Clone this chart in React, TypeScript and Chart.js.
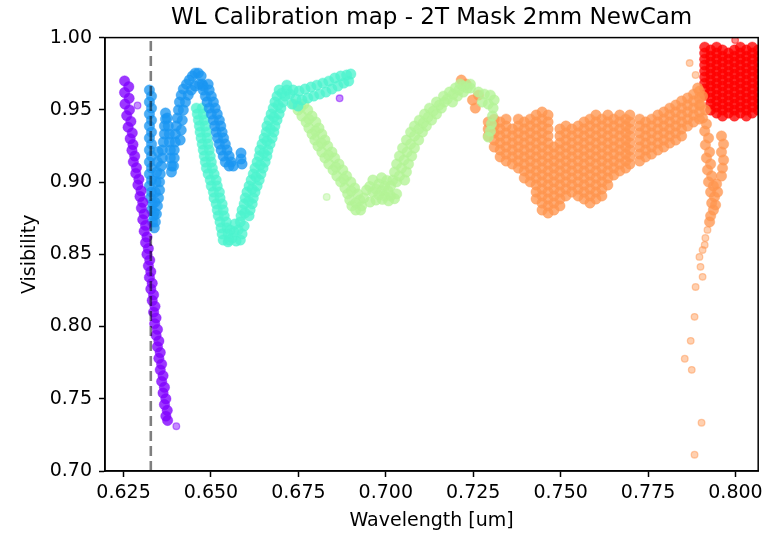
import React, { useEffect, useRef } from 'react';
import { Chart, registerables } from 'chart.js';

Chart.register(...registerables);

const chartTitle = 'WL Calibration map - 2T Mask 2mm NewCam';
const xLabel = 'Wavelength [um]';
const yLabel = 'Visibility';
const wlTicks = [0.625, 0.65, 0.675, 0.7, 0.725, 0.75, 0.775, 0.8];
const visTicks = [0.7, 0.75, 0.8, 0.85, 0.9, 0.95, 1.0];
const xRange = [0.6197, 0.8065];
const yRange = [0.7, 1.0];
const refWavelength = 0.6328;

// rainbow colormap samples 0, 0.2, 0.4, 0.6, 0.8, 1.0
const colPurple = [128, 0, 255];
const colBlue = [26, 150, 242];
const colCyan = [77, 243, 206];
const colGreen = [179, 243, 150];
const colOrange = [255, 150, 79];
const colRed = [255, 0, 0];

const purple: [number, number][] = [
  [0.6253, 0.970], [0.6265, 0.966], [0.6253, 0.962], [0.6266, 0.958], [0.6254, 0.954], [0.6267, 0.950],
  [0.6259, 0.946], [0.6271, 0.942], [0.6263, 0.938], [0.6275, 0.934], [0.6269, 0.930], [0.6277, 0.926],
  [0.6274, 0.922], [0.6282, 0.918], [0.6278, 0.914], [0.6287, 0.910], [0.6285, 0.906], [0.6294, 0.902],
  [0.6291, 0.898], [0.6300, 0.894], [0.6297, 0.890], [0.6305, 0.886], [0.6301, 0.882], [0.6309, 0.878],
  [0.6305, 0.874], [0.6313, 0.870], [0.6309, 0.866], [0.6317, 0.862], [0.6313, 0.858], [0.6321, 0.854],
  [0.6317, 0.850], [0.6325, 0.846], [0.6321, 0.842], [0.6328, 0.838], [0.6324, 0.834], [0.6332, 0.830],
  [0.6328, 0.826], [0.6336, 0.822], [0.6332, 0.818], [0.6340, 0.814], [0.6336, 0.810], [0.6343, 0.806],
  [0.6339, 0.802], [0.6347, 0.798], [0.6343, 0.794], [0.6351, 0.790], [0.6347, 0.786], [0.6355, 0.782],
  [0.6351, 0.778], [0.6359, 0.774], [0.6355, 0.770], [0.6363, 0.766], [0.6359, 0.762], [0.6367, 0.758],
  [0.6363, 0.754], [0.6371, 0.750], [0.6367, 0.746], [0.6375, 0.742], [0.6371, 0.738], [0.6376, 0.735],
];
const purpleStray: [number, number][] = [[0.6401, 0.731], [0.6290, 0.953], [0.6868, 0.958]];

const blue: [number, number][] = [
  [0.6324, 0.9637], [0.6330, 0.9595], [0.6324, 0.9554], [0.6330, 0.9512], [0.6324, 0.9471], [0.6330, 0.9429],
  [0.6324, 0.9388], [0.6330, 0.9346], [0.6324, 0.9305], [0.6330, 0.9263], [0.6324, 0.9222], [0.6330, 0.9180],
  [0.6324, 0.9139], [0.6330, 0.9097], [0.6324, 0.9056], [0.6330, 0.9014], [0.6324, 0.8973], [0.6330, 0.8931],
  [0.6327, 0.8890], [0.6333, 0.8849], [0.6330, 0.8807], [0.6336, 0.8766], [0.6333, 0.8724], [0.6338, 0.8683],
  [0.6338, 0.8790], [0.6340, 0.8860], [0.6341, 0.8930], [0.6343, 0.9000], [0.6345, 0.9070], [0.6347, 0.9140],
  [0.6349, 0.9210],
  [0.6341, 0.8724], [0.6344, 0.8779], [0.6347, 0.8835], [0.6350, 0.8890], [0.6353, 0.8945], [0.6353, 0.9001],
  [0.6355, 0.9056], [0.6358, 0.9111], [0.6361, 0.9167], [0.6361, 0.9222], [0.6364, 0.9277], [0.6367, 0.9333],
  [0.6367, 0.9388], [0.6370, 0.9436], [0.6370, 0.9478],
  [0.6375, 0.9443], [0.6378, 0.9388], [0.6381, 0.9333], [0.6381, 0.9277], [0.6384, 0.9222], [0.6384, 0.9167],
  [0.6387, 0.9111], [0.6387, 0.9070],
  [0.6393, 0.9111], [0.6395, 0.9167], [0.6395, 0.9222], [0.6398, 0.9277], [0.6398, 0.9333], [0.6401, 0.9388],
  [0.6404, 0.9443], [0.6407, 0.9499], [0.6410, 0.9554], [0.6415, 0.9602], [0.6421, 0.9644], [0.6430, 0.9678],
  [0.6438, 0.9706], [0.6447, 0.9734], [0.6455, 0.9754], [0.6464, 0.9754], [0.6472, 0.9734],
  [0.6412, 0.9291], [0.6415, 0.9360], [0.6418, 0.9429], [0.6421, 0.9499], [0.6427, 0.9554], [0.6435, 0.9602],
  [0.6444, 0.9637], [0.6455, 0.9665], [0.6467, 0.9678], [0.6478, 0.9665],
  [0.6475, 0.9678], [0.6492, 0.9678], [0.6478, 0.9637], [0.6495, 0.9637], [0.6484, 0.9595], [0.6501, 0.9595],
  [0.6489, 0.9554], [0.6507, 0.9554], [0.6495, 0.9512], [0.6512, 0.9512], [0.6501, 0.9471], [0.6518, 0.9471],
  [0.6507, 0.9429], [0.6524, 0.9429], [0.6511, 0.9388], [0.6528, 0.9388], [0.6515, 0.9346], [0.6532, 0.9346],
  [0.6519, 0.9305], [0.6536, 0.9305], [0.6524, 0.9263], [0.6541, 0.9263], [0.6529, 0.9222], [0.6546, 0.9222],
  [0.6535, 0.9180], [0.6552, 0.9180], [0.6541, 0.9139], [0.6558, 0.9139], [0.6552, 0.9111], [0.6564, 0.9111],
  [0.6586, 0.9201], [0.6586, 0.9160], [0.6589, 0.9125],
];

const cyan: [number, number][] = [
  [0.6458, 0.9512], [0.6475, 0.9512], [0.6461, 0.9471], [0.6478, 0.9471], [0.6464, 0.9429], [0.6481, 0.9429],
  [0.6467, 0.9388], [0.6484, 0.9388], [0.6469, 0.9346], [0.6487, 0.9346], [0.6472, 0.9305], [0.6489, 0.9305],
  [0.6475, 0.9263], [0.6492, 0.9263], [0.6478, 0.9222], [0.6495, 0.9222], [0.6481, 0.9180], [0.6498, 0.9180],
  [0.6484, 0.9139], [0.6501, 0.9139], [0.6487, 0.9097], [0.6504, 0.9097], [0.6492, 0.9056], [0.6509, 0.9056],
  [0.6498, 0.9014], [0.6515, 0.9014], [0.6501, 0.8973], [0.6518, 0.8973], [0.6507, 0.8931], [0.6524, 0.8931],
  [0.6509, 0.8890], [0.6526, 0.8890], [0.6515, 0.8849], [0.6532, 0.8849], [0.6518, 0.8807], [0.6535, 0.8807],
  [0.6521, 0.8766], [0.6538, 0.8766], [0.6526, 0.8724], [0.6544, 0.8724], [0.6529, 0.8683], [0.6546, 0.8683],
  [0.6532, 0.8641], [0.6549, 0.8641], [0.6535, 0.8599], [0.6552, 0.8599],
  [0.6549, 0.8586], [0.6561, 0.8613], [0.6572, 0.8592], [0.6584, 0.8599], [0.6566, 0.8655], [0.6578, 0.8669],
  [0.6589, 0.8641], [0.6595, 0.8696], [0.6555, 0.8669], [0.6569, 0.8710], [0.6584, 0.8724],
  [0.6586, 0.8766], [0.6609, 0.8766], [0.6589, 0.8807], [0.6612, 0.8807], [0.6595, 0.8849], [0.6618, 0.8849],
  [0.6598, 0.8890], [0.6621, 0.8890], [0.6603, 0.8931], [0.6626, 0.8931], [0.6609, 0.8973], [0.6632, 0.8973],
  [0.6615, 0.9014], [0.6638, 0.9014], [0.6621, 0.9056], [0.6643, 0.9056], [0.6626, 0.9097], [0.6649, 0.9097],
  [0.6632, 0.9139], [0.6655, 0.9139], [0.6638, 0.9180], [0.6660, 0.9180], [0.6640, 0.9222], [0.6663, 0.9222],
  [0.6646, 0.9263], [0.6669, 0.9263], [0.6652, 0.9305], [0.6675, 0.9305], [0.6658, 0.9346], [0.6680, 0.9346],
  [0.6660, 0.9388], [0.6683, 0.9388], [0.6666, 0.9429], [0.6689, 0.9429], [0.6672, 0.9471], [0.6695, 0.9471],
  [0.6678, 0.9512], [0.6700, 0.9512], [0.6683, 0.9554], [0.6706, 0.9554], [0.6689, 0.9595], [0.6712, 0.9595],
  [0.6695, 0.9637], [0.6717, 0.9637],
  [0.6597, 0.8786], [0.6608, 0.8869], [0.6618, 0.8952], [0.6629, 0.9035], [0.6641, 0.9118], [0.6651, 0.9201],
  [0.6660, 0.9284], [0.6670, 0.9367], [0.6680, 0.9450], [0.6692, 0.9533], [0.6703, 0.9616],
  [0.6717, 0.9671], [0.6726, 0.9609], [0.6735, 0.9637], [0.6743, 0.9575], [0.6752, 0.9630], [0.6760, 0.9568],
  [0.6769, 0.9644], [0.6777, 0.9582], [0.6786, 0.9658], [0.6794, 0.9595], [0.6803, 0.9671], [0.6811, 0.9609],
  [0.6820, 0.9685], [0.6829, 0.9623], [0.6837, 0.9699], [0.6846, 0.9644], [0.6854, 0.9720], [0.6863, 0.9665],
  [0.6871, 0.9734], [0.6880, 0.9685], [0.6888, 0.9741], [0.6894, 0.9699], [0.6900, 0.9748],
  [0.6732, 0.9540], [0.6749, 0.9526],
];

const green: [number, number][] = [
  [0.6737, 0.9540], [0.6766, 0.9540], [0.6749, 0.9499], [0.6777, 0.9499], [0.6760, 0.9457], [0.6789, 0.9457],
  [0.6772, 0.9416], [0.6800, 0.9416], [0.6780, 0.9374], [0.6809, 0.9374], [0.6789, 0.9333], [0.6817, 0.9333],
  [0.6797, 0.9291], [0.6826, 0.9291], [0.6806, 0.9250], [0.6834, 0.9250], [0.6817, 0.9208], [0.6846, 0.9208],
  [0.6826, 0.9167], [0.6854, 0.9167], [0.6837, 0.9125], [0.6866, 0.9125], [0.6849, 0.9084], [0.6877, 0.9084],
  [0.6860, 0.9042], [0.6888, 0.9042], [0.6871, 0.9001], [0.6900, 0.9001], [0.6883, 0.8959], [0.6911, 0.8959],
  [0.6891, 0.8918], [0.6920, 0.8918], [0.6897, 0.8876], [0.6926, 0.8876], [0.6903, 0.8835], [0.6931, 0.8835],
  [0.6757, 0.9519], [0.6780, 0.9436], [0.6799, 0.9353], [0.6816, 0.9270], [0.6836, 0.9187], [0.6857, 0.9104],
  [0.6880, 0.9021], [0.6901, 0.8938], [0.6914, 0.8855],
  [0.6914, 0.8807], [0.6928, 0.8807], [0.6937, 0.8890], [0.6945, 0.8945], [0.6963, 0.9014], [0.6963, 0.8931],
  [0.6980, 0.8987], [0.6980, 0.8911], [0.6997, 0.8973], [0.6997, 0.8904], [0.7014, 0.8973], [0.7014, 0.8904],
  [0.7031, 0.9001], [0.7031, 0.8918], [0.6954, 0.8970], [0.6972, 0.8950], [0.6989, 0.8940], [0.7006, 0.8940],
  [0.6955, 0.8862], [0.6972, 0.8876], [0.6990, 0.8880], [0.7008, 0.8870], [0.7025, 0.8885], [0.6988, 0.9030],
  [0.7003, 0.9012],
  [0.7020, 0.9014], [0.7054, 0.9014], [0.7025, 0.9070], [0.7059, 0.9070], [0.7031, 0.9125], [0.7065, 0.9125],
  [0.7039, 0.9180], [0.7074, 0.9180], [0.7048, 0.9236], [0.7082, 0.9236], [0.7059, 0.9291], [0.7094, 0.9291],
  [0.7071, 0.9346], [0.7105, 0.9346], [0.7082, 0.9388], [0.7116, 0.9388], [0.7096, 0.9429], [0.7131, 0.9429],
  [0.7111, 0.9471], [0.7145, 0.9471], [0.7125, 0.9512], [0.7159, 0.9512], [0.7145, 0.9554], [0.7191, 0.9554],
  [0.7168, 0.9554], [0.7165, 0.9595], [0.7205, 0.9595], [0.7182, 0.9623], [0.7222, 0.9623], [0.7199, 0.9651],
  [0.7233, 0.9651], [0.7213, 0.9678], [0.7242, 0.9678],
  [0.7039, 0.9042], [0.7045, 0.9097], [0.7052, 0.9153], [0.7061, 0.9208], [0.7071, 0.9263], [0.7082, 0.9319],
  [0.7094, 0.9367], [0.7107, 0.9409], [0.7121, 0.9450], [0.7136, 0.9492], [0.7153, 0.9533], [0.7176, 0.9575],
  [0.7193, 0.9609], [0.7209, 0.9637], [0.7222, 0.9665],
  [0.7242, 0.9651], [0.7265, 0.9623], [0.7282, 0.9609], [0.7299, 0.9602], [0.7310, 0.9568], [0.7276, 0.9554],
  [0.7293, 0.9540], [0.7307, 0.9512], [0.7305, 0.9457], [0.7302, 0.9402], [0.7299, 0.9353], [0.7293, 0.9312],
];
const greenStray: [number, number][] = [[0.6800, 0.9312], [0.6831, 0.8897]];

// orange cloud: columns of [wavelength, visibilities]
const orangeCols: [number, number[]][] = [
  [0.7293, [0.9416, 0.9367, 0.9319]],
  [0.7310, [0.9436, 0.9388, 0.9340, 0.9291, 0.9243]],
  [0.7327, [0.9416, 0.9367, 0.9319, 0.9270, 0.9222, 0.9174]],
  [0.7344, [0.9436, 0.9388, 0.9340, 0.9291, 0.9243, 0.9194, 0.9146]],
  [0.7362, [0.9367, 0.9319, 0.9270, 0.9222, 0.9174, 0.9125]],
  [0.7379, [0.9436, 0.9388, 0.9340, 0.9291, 0.9243, 0.9194, 0.9146, 0.9097]],
  [0.7396, [0.9416, 0.9367, 0.9319, 0.9270, 0.9222, 0.9174, 0.9125, 0.9077, 0.9028]],
  [0.7413, [0.9436, 0.9388, 0.9340, 0.9291, 0.9243, 0.9194, 0.9146, 0.9097, 0.9049, 0.9001]],
  [0.7430, [0.9464, 0.9416, 0.9367, 0.9319, 0.9270, 0.9222, 0.9174, 0.9125, 0.9077, 0.9028, 0.8980, 0.8931, 0.8883]],
  [0.7447, [0.9485, 0.9436, 0.9388, 0.9340, 0.9291, 0.9243, 0.9194, 0.9146, 0.9097, 0.9049, 0.9001, 0.8952, 0.8904, 0.8855, 0.8807]],
  [0.7464, [0.9464, 0.9416, 0.9367, 0.9319, 0.9270, 0.9222, 0.9174, 0.9125, 0.9077, 0.9028, 0.8980, 0.8931, 0.8883, 0.8835, 0.8786]],
  [0.7481, [0.9243, 0.9194, 0.9146, 0.9097, 0.9049, 0.9001, 0.8952, 0.8904, 0.8855, 0.8807]],
  [0.7498, [0.9367, 0.9319, 0.9270, 0.9222, 0.9174, 0.9125, 0.9077, 0.9028, 0.8980, 0.8931, 0.8883, 0.8835]],
  [0.7515, [0.9388, 0.9340, 0.9291, 0.9243, 0.9194, 0.9146, 0.9097, 0.9049, 0.9001, 0.8952, 0.8904]],
  [0.7532, [0.9367, 0.9319, 0.9270, 0.9222, 0.9174, 0.9125, 0.9077, 0.9028, 0.8980, 0.8931]],
  [0.7550, [0.9388, 0.9340, 0.9291, 0.9243, 0.9194, 0.9146, 0.9097, 0.9049, 0.9001, 0.8952, 0.8904]],
  [0.7567, [0.9416, 0.9367, 0.9319, 0.9270, 0.9222, 0.9174, 0.9125, 0.9077, 0.9028, 0.8980, 0.8931, 0.8883]],
  [0.7584, [0.9436, 0.9388, 0.9340, 0.9291, 0.9243, 0.9194, 0.9146, 0.9097, 0.9049, 0.9001, 0.8952, 0.8904, 0.8855]],
  [0.7601, [0.9464, 0.9416, 0.9367, 0.9319, 0.9270, 0.9222, 0.9174, 0.9125, 0.9077, 0.9028, 0.8980, 0.8931, 0.8883]],
  [0.7618, [0.9436, 0.9388, 0.9340, 0.9291, 0.9243, 0.9194, 0.9146, 0.9097, 0.9049, 0.9001, 0.8952, 0.8904]],
  [0.7635, [0.9464, 0.9416, 0.9367, 0.9319, 0.9270, 0.9222, 0.9174, 0.9125, 0.9077, 0.9028, 0.8980]],
  [0.7652, [0.9436, 0.9388, 0.9340, 0.9291, 0.9243, 0.9194, 0.9146, 0.9097, 0.9049]],
  [0.7669, [0.9464, 0.9416, 0.9367, 0.9319, 0.9270, 0.9222, 0.9174, 0.9125, 0.9077]],
  [0.7686, [0.9436, 0.9388, 0.9340, 0.9291, 0.9243, 0.9194, 0.9146, 0.9097]],
  [0.7698, [0.9464, 0.9416, 0.9367, 0.9319, 0.9270, 0.9222, 0.9174, 0.9125]],
  [0.7726, [0.9436, 0.9388, 0.9340, 0.9291, 0.9243, 0.9194, 0.9146]],
  [0.7743, [0.9416, 0.9367, 0.9319, 0.9270, 0.9222, 0.9174]],
  [0.7760, [0.9436, 0.9388, 0.9340, 0.9291, 0.9243, 0.9194]],
  [0.7778, [0.9464, 0.9416, 0.9367, 0.9319, 0.9270, 0.9222]],
  [0.7795, [0.9485, 0.9436, 0.9388, 0.9340, 0.9291, 0.9243]],
  [0.7812, [0.9512, 0.9464, 0.9416, 0.9367, 0.9319, 0.9270]],
  [0.7829, [0.9533, 0.9485, 0.9436, 0.9388, 0.9340, 0.9291]],
  [0.7846, [0.9561, 0.9512, 0.9464, 0.9416, 0.9367, 0.9319]],
  [0.7863, [0.9582, 0.9533, 0.9485, 0.9436, 0.9388]],
  [0.7880, [0.9609, 0.9561, 0.9512, 0.9464, 0.9416]],
  [0.7897, [0.9630, 0.9582, 0.9533, 0.9485, 0.9436]],
];

const orangeTail: [number, number][] = [
  [0.7216, 0.9706], [0.7230, 0.9678], [0.7248, 0.9568], [0.7256, 0.9512], [0.7265, 0.9602],
  [0.7892, 0.9651], [0.7906, 0.9595], [0.7900, 0.9533], [0.7914, 0.9499], [0.7906, 0.9443], [0.7917, 0.9402],
  [0.7912, 0.9353], [0.7923, 0.9305], [0.7914, 0.9257], [0.7926, 0.9208], [0.7917, 0.9167], [0.7929, 0.9125],
  [0.7920, 0.9084], [0.7932, 0.9042], [0.7923, 0.9001], [0.7937, 0.8973], [0.7929, 0.8931], [0.7940, 0.8897],
  [0.7932, 0.8855], [0.7937, 0.8807], [0.7929, 0.8766], [0.7926, 0.8724],
  [0.7946, 0.8987], [0.7949, 0.8931], [0.7943, 0.8842],
  [0.7960, 0.9319], [0.7966, 0.9263], [0.7960, 0.9208], [0.7966, 0.9153], [0.7963, 0.9097], [0.7960, 0.9042],
];
const orangeSparse: [number, number][] = [
  [0.7920, 0.8669], [0.7914, 0.8613], [0.7912, 0.8565], [0.7906, 0.8530], [0.7897, 0.8482], [0.7900, 0.8413],
  [0.7906, 0.8344], [0.7886, 0.8274], [0.7883, 0.8067], [0.7872, 0.7901], [0.7855, 0.7777], [0.7875, 0.7700],
  [0.7903, 0.7334], [0.7883, 0.7113], [0.7869, 0.9824], [0.7886, 0.9741],
];

const redCols: [number, number[]][] = [
  [0.7912, [0.9934, 0.9893, 0.9851, 0.9810, 0.9768, 0.9727, 0.9685, 0.9644, 0.9602]],
  [0.7929, [0.9914, 0.9872, 0.9831, 0.9789, 0.9748, 0.9706, 0.9665, 0.9623, 0.9582, 0.9540, 0.9499]],
  [0.7946, [0.9934, 0.9893, 0.9851, 0.9810, 0.9768, 0.9727, 0.9685, 0.9644, 0.9602, 0.9561, 0.9519, 0.9478]],
  [0.7963, [0.9914, 0.9872, 0.9831, 0.9789, 0.9748, 0.9706, 0.9665, 0.9623, 0.9582, 0.9540, 0.9499, 0.9457]],
  [0.7980, [0.9893, 0.9851, 0.9810, 0.9768, 0.9727, 0.9685, 0.9644, 0.9602, 0.9561, 0.9519, 0.9478]],
  [0.7997, [0.9914, 0.9872, 0.9831, 0.9789, 0.9748, 0.9706, 0.9665, 0.9623, 0.9582, 0.9540, 0.9499, 0.9457]],
  [0.8014, [0.9934, 0.9893, 0.9851, 0.9810, 0.9768, 0.9727, 0.9685, 0.9644, 0.9602, 0.9561, 0.9519, 0.9478]],
  [0.8031, [0.9914, 0.9872, 0.9831, 0.9789, 0.9748, 0.9706, 0.9665, 0.9623, 0.9582, 0.9540, 0.9499, 0.9457]],
  [0.8048, [0.9934, 0.9893, 0.9851, 0.9810, 0.9768, 0.9727, 0.9685, 0.9644, 0.9602, 0.9561, 0.9519, 0.9478]],
  [0.8065, [0.9914, 0.9872, 0.9831, 0.9789, 0.9748, 0.9706, 0.9665, 0.9623, 0.9582, 0.9540, 0.9499]],
];
const redStray: [number, number][] = [[0.7999, 0.9983]];

const FONT = "'DejaVu Sans', sans-serif";

const rgba = (c: number[], a: number) => `rgba(${c[0]},${c[1]},${c[2]},${a})`;
const fromPairs = (pts: [number, number][]) => pts.map(([x, y]) => ({ x, y }));
const fromCols = (cols: [number, number[]][]) => cols.flatMap(([x, ys]) => ys.map((y) => ({ x, y })));

// dense band: many overlapping observations -> saturated
function bandSet(label: string, data: { x: number; y: number }[], color: number[]) {
  return {
    label,
    data,
    backgroundColor: rgba(color, 0.78),
    borderColor: rgba(color, 0.35),
    borderWidth: 1,
    pointRadius: 5.2,
    pointHoverRadius: 5.2,
    clip: 0,
  };
}
// isolated observations
function straySet(label: string, data: { x: number; y: number }[], color: number[]) {
  return {
    label,
    data,
    backgroundColor: rgba(color, 0.45),
    borderColor: rgba(color, 0.5),
    borderWidth: 1.3,
    pointRadius: 3.3,
    pointHoverRadius: 3.3,
    clip: 0,
  };
}

const framePlugin = {
  id: 'frame',
  afterDraw(chart: any) {
    const { ctx, chartArea } = chart;
    ctx.save();
    ctx.strokeStyle = '#000';
    ctx.lineWidth = 1.5;
    ctx.strokeRect(chartArea.left, chartArea.top, chartArea.right - chartArea.left, chartArea.bottom - chartArea.top);
    ctx.restore();
  },
};

export default function App() {
  const ref = useRef<HTMLCanvasElement>(null);
  useEffect(() => {
    if (!ref.current) return;
    const chart = new Chart(ref.current, {
      type: 'scatter',
      data: {
        datasets: [
          {
            label: 'ref',
            data: [
              { x: refWavelength, y: yRange[0] },
              { x: refWavelength, y: yRange[1] },
            ],
            showLine: true,
            borderColor: 'rgba(0,0,0,0.5)',
            borderWidth: 2.6,
            borderDash: [10, 5],
            pointRadius: 0,
            pointHoverRadius: 0,
            fill: false,
            clip: 0,
          } as any,
          straySet('s0 stray', fromPairs(purpleStray), colPurple),
          bandSet('s0', fromPairs(purple), colPurple),
          bandSet('s1', fromPairs(blue), colBlue),
          bandSet('s2', fromPairs(cyan), colCyan),
          straySet('s3 stray', fromPairs(greenStray), colGreen),
          bandSet('s3', fromPairs(green), colGreen),
          straySet('s4 sparse', fromPairs(orangeSparse), colOrange),
          bandSet('s4', [...fromCols(orangeCols), ...fromPairs(orangeTail)], colOrange),
          straySet('s5 stray', fromPairs(redStray), colRed),
          bandSet('s5', fromCols(redCols), colRed),
        ],
      },
      options: {
        responsive: true,
        maintainAspectRatio: false,
        animation: false,
        devicePixelRatio: 1,
        layout: { padding: { left: 0, right: 7, top: 0, bottom: 0 } },
        plugins: {
          legend: { display: false },
          tooltip: { enabled: false },
          title: {
            display: true,
            text: chartTitle,
            fullSize: false,
            color: '#000',
            font: { family: FONT, size: 23, weight: 'normal' },
            padding: { top: 4, bottom: 6 },
          },
        },
        scales: {
          x: {
            type: 'linear',
            min: xRange[0],
            max: xRange[1],
            afterBuildTicks: (s: any) => {
              s.ticks = wlTicks.map((v) => ({ value: v }));
            },
            afterFit: (s: any) => {
              s.height = 62;
            },
            ticks: {
              callback: (v: any) => Number(v).toFixed(3),
              color: '#000',
              font: { family: FONT, size: 19 },
              padding: 5,
              autoSkip: false,
              maxRotation: 0,
              minRotation: 0,
            },
            grid: { display: true, drawOnChartArea: false, drawTicks: true, tickLength: 6, tickWidth: 1.5, tickColor: '#000' },
            border: { display: true, color: '#000', width: 1.5 },
            title: { display: true, text: xLabel, color: '#000', font: { family: FONT, size: 19 }, padding: { top: 0, bottom: 1 } },
          },
          y: {
            type: 'linear',
            min: yRange[0],
            max: yRange[1],
            afterBuildTicks: (s: any) => {
              s.ticks = visTicks.map((v) => ({ value: v }));
            },
            afterFit: (s: any) => {
              s.width = 105;
            },
            ticks: {
              callback: (v: any) => Number(v).toFixed(2),
              color: '#000',
              font: { family: FONT, size: 19 },
              padding: 7,
              autoSkip: false,
            },
            grid: { display: true, drawOnChartArea: false, drawTicks: true, tickLength: 6, tickWidth: 1.5, tickColor: '#000' },
            border: { display: true, color: '#000', width: 1.5 },
            title: { display: true, text: yLabel, color: '#000', font: { family: FONT, size: 19 }, padding: { top: 19, bottom: 0 } },
          },
        },
      } as any,
      plugins: [framePlugin],
    });
    return () => chart.destroy();
  }, []);
  return (
    <div style={{ position: 'absolute', left: 0, top: 0, width: 768, height: 533 }}>
      <canvas ref={ref} />
    </div>
  );
}
